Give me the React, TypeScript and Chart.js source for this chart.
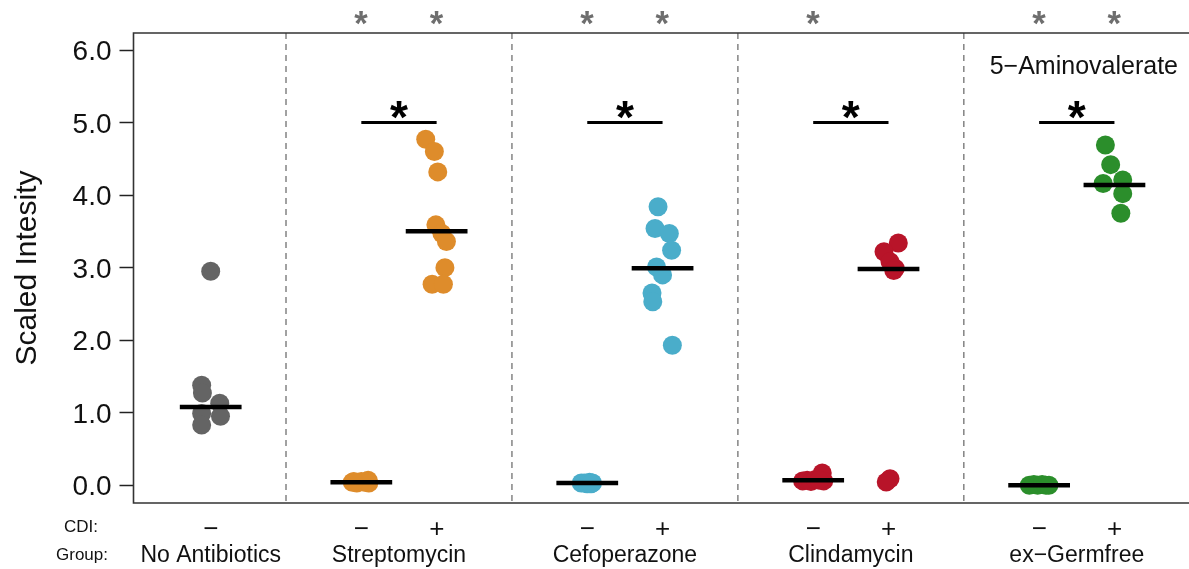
import React, { useEffect, useRef } from "react";
import { Chart, registerables } from "chart.js";

Chart.register(...registerables);

// ---------- data ----------
const groups = ["No Antibiotics", "Streptomycin", "Cefoperazone", "Clindamycin", "ex−Germfree"];
const groupColors = ["#646464", "#DE8C2B", "#4AADCA", "#B81429", "#2B8E2B"];
const conditionGroup = [0, 1, 1, 2, 2, 3, 3, 4, 4];
const conditionCDI = ["−", "−", "+", "−", "+", "−", "+", "−", "+"];
const conditionSlot = [1, 3, 4, 6, 7, 9, 10, 12, 13];
const separatorSlots = [2, 5, 8, 11];
const xRange = [-0.025, 13.99];
const yRange = [-0.245, 6.235];
const yTicks = [0, 1, 2, 3, 4, 5, 6];

const valsNoAb = [2.95, 1.38, 1.27, 1.13, 0.95, 0.99, 0.83];
const jitNoAb = [0.0, -0.12, -0.11, 0.12, 0.13, -0.12, -0.12];
const valsStrepNeg = [0.04, 0.03, 0.05, 0.04, 0.07, 0.03, 0.05];
const jitStrepNeg = [-0.12, -0.06, 0.0, 0.04, 0.09, 0.1, -0.1];
const valsStrepPos = [4.77, 4.6, 4.32, 3.59, 3.47, 3.36, 3.0, 2.77, 2.77];
const jitStrepPos = [-0.145, -0.03, 0.015, -0.01, 0.07, 0.13, 0.11, -0.06, 0.09];
const valsCefNeg = [0.03, 0.03, 0.02, 0.04, 0.03, 0.02];
const jitCefNeg = [-0.08, -0.04, 0.0, 0.03, 0.07, 0.05];
const valsCefPos = [3.84, 3.54, 3.47, 3.24, 3.01, 2.9, 2.65, 2.53, 1.93];
const jitCefPos = [-0.06, -0.1, 0.09, 0.12, -0.08, 0.0, -0.14, -0.13, 0.13];
const valsClinNeg = [0.06, 0.07, 0.05, 0.08, 0.17, 0.06, 0.07];
const jitClinNeg = [-0.14, -0.08, -0.03, 0.03, 0.12, 0.14, 0.08];
const valsClinPos = [3.34, 3.22, 3.08, 2.99, 2.96, 0.09, 0.045];
const jitClinPos = [0.13, -0.06, 0.02, 0.09, 0.07, 0.02, -0.03];
const valsGFNeg = [0.0, 0.01, 0.0, 0.01, 0.0, 0.0];
const jitGFNeg = [-0.13, -0.07, -0.02, 0.04, 0.09, 0.13];
const valsGFPos = [4.69, 4.42, 4.21, 4.16, 4.02, 3.75];
const jitGFPos = [-0.12, -0.05, 0.11, -0.15, 0.11, 0.085];

const conditionValues = [valsNoAb, valsStrepNeg, valsStrepPos, valsCefNeg, valsCefPos, valsClinNeg, valsClinPos, valsGFNeg, valsGFPos];
const conditionJitter = [jitNoAb, jitStrepNeg, jitStrepPos, jitCefNeg, jitCefPos, jitClinNeg, jitClinPos, jitGFNeg, jitGFPos];

const medians = [1.08, 0.04, 3.5, 0.03, 2.99, 0.07, 2.98, 0.0, 4.14];
const medianHalfWidth = 0.41;
const topStars = [false, true, true, true, true, true, false, true, true];
const bracketGroups = [1, 2, 3, 4];
const bracketY = 5.0;
const bracketStarY = 5.17;
const metaboliteName = "5−Aminovalerate";
const yTitle = "Scaled Intesity";
const cdiTitle = "CDI:";
const groupTitle = "Group:";

const FONT = "'Liberation Sans', Arial, Helvetica, sans-serif";

function drawInkCentered(ctx: CanvasRenderingContext2D, text: string, cx: number, cy: number, font: string, color: string) {
  ctx.save();
  ctx.font = font;
  ctx.fillStyle = color;
  ctx.textAlign = "left";
  ctx.textBaseline = "alphabetic";
  const m = ctx.measureText(text);
  const L = m.actualBoundingBoxLeft;
  const R = m.actualBoundingBoxRight;
  const A = m.actualBoundingBoxAscent;
  const D = m.actualBoundingBoxDescent;
  ctx.fillText(text, cx - (R - L) / 2, cy - (D - A) / 2);
  ctx.restore();
}

function drawStarFit(ctx: CanvasRenderingContext2D, cx: number, cy: number, inkW: number, color: string) {
  ctx.save();
  ctx.font = `bold 100px ${FONT}`;
  const m = ctx.measureText("*");
  const w = m.actualBoundingBoxRight + m.actualBoundingBoxLeft;
  const size = (100 * inkW) / (w || 40);
  ctx.restore();
  drawInkCentered(ctx, "*", cx, cy, `bold ${size}px ${FONT}`, color);
}

const annotationPlugin = {
  id: "annotations",
  afterDraw(chart: any) {
    const { ctx, chartArea } = chart;
    const xs = chart.scales.x;
    const ys = chart.scales.y;
    ctx.save();
    // frame (left, top, bottom; right edge lies at the canvas edge)
    ctx.strokeStyle = "#333";
    ctx.lineWidth = 1.6;
    ctx.beginPath();
    ctx.moveTo(chartArea.right + 2, chartArea.top);
    ctx.lineTo(chartArea.left, chartArea.top);
    ctx.lineTo(chartArea.left, chartArea.bottom);
    ctx.lineTo(chartArea.right + 2, chartArea.bottom);
    ctx.stroke();

    // y title
    ctx.save();
    ctx.translate(36, (chartArea.top + chartArea.bottom) / 2);
    ctx.rotate(-Math.PI / 2);
    ctx.font = `30px ${FONT}`;
    ctx.fillStyle = "#111";
    ctx.textAlign = "center";
    ctx.textBaseline = "alphabetic";
    ctx.fillText(yTitle, 0, 0);
    ctx.restore();

    // top grey stars
    topStars.forEach((flag, i) => {
      if (!flag) return;
      drawStarFit(ctx, xs.getPixelForValue(conditionSlot[i]), chartArea.top - 14.7, 13.5, "#6e6e6e");
    });

    // bracket stars
    bracketGroups.forEach((g) => {
      const slots = conditionSlot.filter((_, i) => conditionGroup[i] === g);
      const mid = (slots[0] + slots[slots.length - 1]) / 2;
      drawStarFit(ctx, xs.getPixelForValue(mid), ys.getPixelForValue(bracketStarY), 18, "#000");
    });

    // metabolite name
    ctx.font = `25px ${FONT}`;
    ctx.fillStyle = "#111";
    ctx.textAlign = "right";
    ctx.textBaseline = "alphabetic";
    ctx.fillText(metaboliteName, chartArea.right - 11, chartArea.top + 41);

    // CDI signs
    conditionCDI.forEach((s, i) => {
      drawInkCentered(ctx, s, xs.getPixelForValue(conditionSlot[i]), chartArea.bottom + 25, `26px ${FONT}`, "#111");
    });

    // group names
    ctx.font = `23px ${FONT}`;
    ctx.fillStyle = "#111";
    ctx.textAlign = "center";
    groups.forEach((g, gi) => {
      const slots = conditionSlot.filter((_, i) => conditionGroup[i] === gi);
      const mid = (slots[0] + slots[slots.length - 1]) / 2;
      ctx.fillText(g, xs.getPixelForValue(mid), chartArea.bottom + 58.5);
    });

    // row titles
    ctx.font = `17px ${FONT}`;
    ctx.textAlign = "center";
    ctx.fillText(cdiTitle, 81, chartArea.bottom + 28.7);
    ctx.fillText(groupTitle, 82, chartArea.bottom + 57);
    ctx.restore();
  },
};

export default function App() {
  const canvasRef = useRef<HTMLCanvasElement | null>(null);

  useEffect(() => {
    if (!canvasRef.current) return;
    const datasets: any[] = [];

    // medians (on top)
    medians.forEach((m, i) => {
      datasets.push({
        type: "scatter",
        data: [
          { x: conditionSlot[i] - medianHalfWidth, y: m },
          { x: conditionSlot[i] + medianHalfWidth, y: m },
        ],
        showLine: true,
        borderColor: "#000",
        borderWidth: 4.5,
        pointRadius: 0,
        order: 0,
      });
    });

    // brackets
    bracketGroups.forEach((g) => {
      const slots = conditionSlot.filter((_, i) => conditionGroup[i] === g);
      datasets.push({
        type: "scatter",
        data: [
          { x: slots[0], y: bracketY },
          { x: slots[slots.length - 1], y: bracketY },
        ],
        showLine: true,
        borderColor: "#000",
        borderWidth: 3,
        pointRadius: 0,
        order: 0,
      });
    });

    // points
    conditionValues.forEach((vals, i) => {
      const color = groupColors[conditionGroup[i]];
      datasets.push({
        type: "scatter",
        data: vals.map((v, k) => ({ x: conditionSlot[i] + conditionJitter[i][k], y: v })),
        backgroundColor: color,
        borderColor: color,
        borderWidth: 0,
        pointRadius: 9.5,
        pointBorderWidth: 0,
        order: 1,
      });
    });

    // separators
    separatorSlots.forEach((s) => {
      datasets.push({
        type: "scatter",
        data: [
          { x: s, y: yRange[1] },
          { x: s, y: yRange[0] },
        ],
        showLine: true,
        borderColor: "#7a7a7a",
        borderWidth: 1.4,
        borderDash: [6, 5],
        pointRadius: 0,
        order: 2,
      });
    });

    const chart = new Chart(canvasRef.current, {
      type: "scatter",
      data: { datasets },
      options: {
        animation: false,
        responsive: true,
        maintainAspectRatio: false,
        events: [],
        layout: { autoPadding: false, padding: { top: 33, bottom: 66, left: 0, right: 0 } },
        plugins: { legend: { display: false }, tooltip: { enabled: false } },
        scales: {
          x: {
            type: "linear",
            min: xRange[0],
            max: xRange[1],
            display: false,
          },
          y: {
            type: "linear",
            min: yRange[0],
            max: yRange[1],
            afterBuildTicks: (scale: any) => {
              scale.ticks = yTicks.map((v) => ({ value: v }));
            },
            afterFit: (scale: any) => {
              scale.width = 133.5;
            },
            grid: {
              display: true,
              drawOnChartArea: false,
              drawTicks: true,
              tickLength: 14,
              tickWidth: 1.5,
              tickColor: "#222",
            },
            border: { display: false },
            ticks: {
              padding: 8,
              labelOffset: 2.5,
              color: "#111",
              font: { family: FONT, size: 28 },
              callback: (v: any) => Number(v).toFixed(1),
            },
          },
        },
      },
      plugins: [annotationPlugin],
    } as any);
    return () => chart.destroy();
  }, []);

  return (
    <div style={{ position: "fixed", left: 0, top: 0, width: 1189, height: 569, background: "#fff" }}>
      <canvas ref={canvasRef} />
    </div>
  );
}
